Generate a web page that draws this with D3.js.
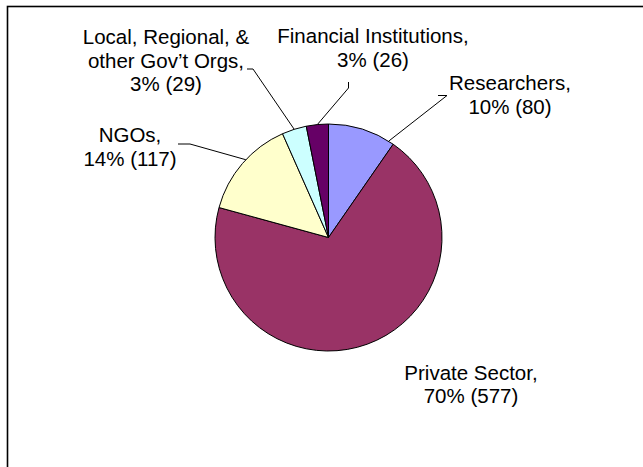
<!DOCTYPE html>
<html>
<head>
<meta charset="utf-8">
<script src="https://cdn.jsdelivr.net/npm/d3@7"></script>
<style>
  html, body { margin: 0; padding: 0; background: #fff; }
  svg { display: block; }
  text { font-family: "Liberation Sans", Arial, sans-serif; fill: #000; }
</style>
</head>
<body>
<svg id="chart" width="643" height="467"></svg>
<script>
// ---- data ----
const categories = ["Researchers", "Private Sector", "NGOs", "Local, Regional, & other Gov\u2019t Orgs", "Financial Institutions"];
const counts = [80, 577, 117, 29, 26];
const colors = ["#9999FF", "#993366", "#FFFFCC", "#CCFFFF", "#660066"];

// ---- layout (label placement) ----
const nameLines = [["Researchers,"], ["Private Sector,"], ["NGOs,"], ["Local, Regional, &", "other Gov\u2019t Orgs,"], ["Financial Institutions,"]];
const labelX = [510, 471, 130, 166, 373];
const labelY = [90, 379.5, 142, 44, 43];      // first baseline
const lineGap = 23.5;
const leaderStart = [[[438, 95.5], [447, 95.5]], null, [[178, 144], [190, 144]], [[247, 69], [253, 69]], [[348.5, 82], [348.5, 88]]];
const leaderFrac = [0.92, 0.5, 0.55, 0.5, 0.5];

const svg = d3.select("#chart");
const W = 643, H = 467;
const cx = 328.5, cy = 237.5, R = 113.5;

svg.append("rect").attr("x", 0).attr("y", 0).attr("width", W).attr("height", H).attr("fill", "#fff");
svg.append("rect").attr("x", 7.5).attr("y", 6.5).attr("width", W + 10).attr("height", H + 10)
  .attr("fill", "none").attr("stroke", "#000").attr("stroke-width", 1.6);

const total = d3.sum(counts);
const data = categories.map((c, i) => ({ name: c, value: counts[i], i }));
const pie = d3.pie().value(d => d.value).sort(null).startAngle(0).endAngle(2 * Math.PI);
const arcs = pie(data);
const arc = d3.arc().innerRadius(0).outerRadius(R);

const g = svg.append("g").attr("transform", `translate(${cx},${cy})`);
g.selectAll("path.slice").data(arcs).join("path")
  .attr("class", "slice")
  .attr("d", arc)
  .attr("fill", d => colors[d.data.i])
  .attr("stroke", "#000")
  .attr("stroke-width", 1)
  .attr("stroke-linejoin", "round");

arcs.forEach(d => {
  const i = d.data.i;
  if (!leaderStart[i]) return;
  const a = d.startAngle + (d.endAngle - d.startAngle) * leaderFrac[i];
  const end = [cx + R * Math.sin(a), cy - R * Math.cos(a)];
  const pts = leaderStart[i].concat([end]);
  svg.append("path")
    .attr("d", d3.line()(pts))
    .attr("fill", "none").attr("stroke", "#000").attr("stroke-width", 1);
});

arcs.forEach(d => {
  const i = d.data.i;
  const pct = Math.round(d.value / total * 100);
  const lines = nameLines[i].concat([`${pct}% (${d.value})`]);
  const t = svg.append("text")
    .attr("text-anchor", "middle")
    .attr("font-size", 20.5);
  lines.forEach((ln, k) => {
    t.append("tspan").attr("x", labelX[i]).attr("y", labelY[i] + k * lineGap).text(ln);
  });
});
</script>
</body>
</html>
